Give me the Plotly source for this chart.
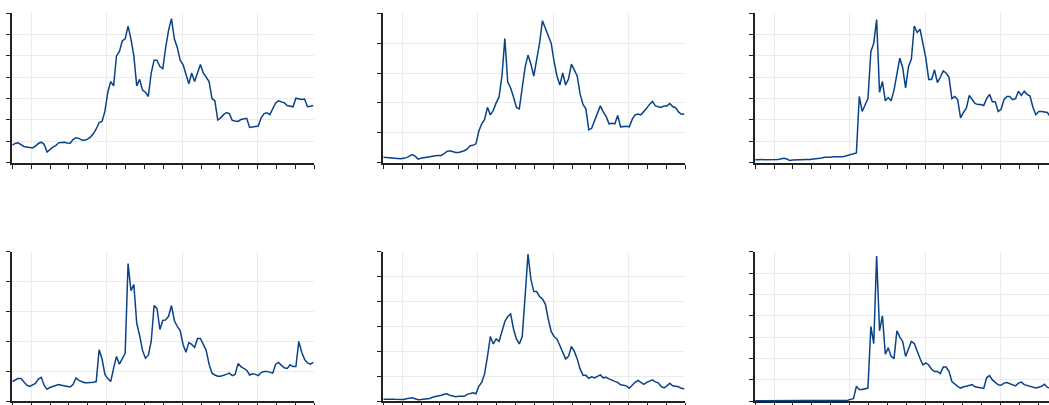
import pandas as pd
import plotly.graph_objects as go
from plotly.subplots import make_subplots

# Fortnightly sampling dates shared by every panel
dates = pd.date_range("2019-10-01", periods=105, freq="14D")

btc = [8200, 9000, 9300, 8300, 7600, 7300, 7000, 6900, 7800, 9000,
       9600, 8600, 5000, 6200, 7300, 8000, 9300, 9500, 9600, 9200,
       9100, 10800, 11700, 11400, 10600, 10500, 11000, 12000, 13500, 15800,
       18800, 19300, 24000, 33000, 38000, 36000, 50000, 52000, 57000, 58000,
       64000, 58000, 50000, 36000, 39000, 34000, 33000, 31000, 42000, 48000,
       48000, 45000, 44000, 54000, 62000, 67500, 58000, 54000, 48000, 46000,
       42000, 37000, 42000, 38000, 42000, 46000, 42000, 40000, 38000, 30000,
       29000, 20000, 21000, 22500, 23500, 23000, 19800, 19500, 19300, 20200,
       20500, 20800, 16500, 16600, 17000, 17200, 21000, 23000, 23400, 22500,
       25000, 28000, 29000, 28500, 28000, 26800, 26500, 26200, 30200, 30000,
       29600, 29800, 26200, 26400, 26800]

eth = [180, 180, 170, 160, 150, 140, 130, 150, 170, 220,
       270, 220, 120, 150, 170, 190, 210, 230, 230, 240,
       240, 300, 380, 400, 360, 340, 340, 370, 400, 460,
       570, 580, 630, 1050, 1300, 1450, 1850, 1600, 1750, 2000,
       2200, 2900, 4150, 2700, 2500, 2200, 1850, 1800, 2500, 3200,
       3600, 3300, 2900, 3400, 4000, 4750, 4500, 4300, 4000, 3400,
       2900, 2600, 3000, 2600, 2800, 3300, 3100, 2900, 2300, 1950,
       1800, 1100, 1150, 1400, 1600, 1900, 1700, 1550, 1300, 1320,
       1300, 1580, 1200, 1220, 1220, 1200, 1450, 1600, 1630, 1600,
       1700, 1820, 1950, 2050, 1900, 1870, 1850, 1900, 1900, 1980,
       1880, 1840, 1700, 1620, 1630]

bnb = [14, 14, 15, 14, 13, 12, 12, 13, 15, 18,
       21, 17, 10, 13, 14, 15, 16, 16, 15, 15,
       16, 17, 21, 22, 25, 24, 26, 28, 27, 28,
       28, 30, 34, 38, 42, 46, 310, 240, 270, 300,
       520, 560, 670, 330, 380, 290, 305, 290, 340, 410,
       490, 445, 350, 450, 485, 640, 610, 625, 555, 490,
       390, 390, 435, 375, 400, 430, 420, 400, 300, 310,
       295, 210, 235, 255, 315, 295, 278, 272, 272, 268,
       300, 320, 285, 285, 240, 250, 295, 310, 310, 295,
       300, 335, 315, 335, 320, 312, 260, 225, 240, 240,
       238, 235, 215, 212, 210]

xrp = [0.264, 0.288, 0.304, 0.304, 0.256, 0.216, 0.200, 0.224, 0.240, 0.296,
       0.320, 0.216, 0.160, 0.184, 0.200, 0.216, 0.224, 0.216, 0.208, 0.200,
       0.192, 0.224, 0.312, 0.280, 0.264, 0.248, 0.248, 0.248, 0.256, 0.264,
       0.688, 0.568, 0.360, 0.304, 0.264, 0.440, 0.600, 0.496, 0.576, 0.640,
       1.840, 1.480, 1.560, 1.040, 0.880, 0.680, 0.576, 0.616, 0.800, 1.280,
       1.240, 0.960, 1.080, 1.088, 1.136, 1.280, 1.080, 1.000, 0.944, 0.760,
       0.656, 0.784, 0.760, 0.720, 0.840, 0.840, 0.760, 0.680, 0.496, 0.376,
       0.352, 0.336, 0.336, 0.344, 0.360, 0.376, 0.344, 0.360, 0.504, 0.464,
       0.440, 0.416, 0.352, 0.368, 0.360, 0.344, 0.384, 0.400, 0.400, 0.384,
       0.376, 0.496, 0.520, 0.480, 0.448, 0.440, 0.488, 0.464, 0.464, 0.800,
       0.656, 0.560, 0.512, 0.496, 0.520]

ada = [0.040, 0.045, 0.045, 0.042, 0.040, 0.035, 0.033, 0.038, 0.050, 0.060,
       0.070, 0.050, 0.030, 0.035, 0.040, 0.050, 0.055, 0.080, 0.090, 0.100,
       0.120, 0.140, 0.150, 0.120, 0.100, 0.090, 0.100, 0.100, 0.100, 0.140,
       0.150, 0.170, 0.150, 0.300, 0.380, 0.550, 0.900, 1.300, 1.150, 1.250,
       1.200, 1.400, 1.600, 1.700, 1.750, 1.450, 1.250, 1.150, 1.300, 2.100,
       2.950, 2.450, 2.200, 2.200, 2.100, 2.050, 1.950, 1.650, 1.400, 1.300,
       1.250, 1.120, 1.000, 0.850, 0.900, 1.100, 1.000, 0.850, 0.650, 0.520,
       0.520, 0.460, 0.490, 0.470, 0.500, 0.530, 0.470, 0.480, 0.450, 0.420,
       0.400, 0.380, 0.330, 0.320, 0.310, 0.260, 0.330, 0.380, 0.420, 0.380,
       0.340, 0.380, 0.400, 0.430, 0.390, 0.370, 0.300, 0.270, 0.310, 0.360,
       0.310, 0.300, 0.290, 0.260, 0.250]

doge = [0.0027, 0.0028, 0.0027, 0.0025, 0.0022, 0.0021, 0.0020, 0.0021, 0.0024, 0.0026,
        0.0028, 0.0025, 0.0017, 0.0019, 0.0021, 0.0023, 0.0025, 0.0026, 0.0027, 0.0028,
        0.0030, 0.0038, 0.0033, 0.0030, 0.0028, 0.0027, 0.0026, 0.0026, 0.0030, 0.0034,
        0.0040, 0.0045, 0.0055, 0.0090, 0.0120, 0.070, 0.055, 0.055, 0.058, 0.062,
        0.350, 0.270, 0.680, 0.330, 0.400, 0.220, 0.250, 0.210, 0.200, 0.330,
        0.300, 0.280, 0.210, 0.250, 0.280, 0.270, 0.230, 0.200, 0.170, 0.180,
        0.170, 0.150, 0.140, 0.140, 0.130, 0.160, 0.160, 0.140, 0.092, 0.080,
        0.070, 0.062, 0.068, 0.070, 0.075, 0.078, 0.068, 0.065, 0.062, 0.060,
        0.110, 0.120, 0.100, 0.090, 0.077, 0.075, 0.085, 0.088, 0.082, 0.076,
        0.072, 0.085, 0.090, 0.078, 0.074, 0.070, 0.065, 0.062, 0.066, 0.070,
        0.080, 0.065, 0.063, 0.062, 0.062]

series = [btc, eth, bnb, xrp, ada, doge]
y_ranges = [(0, 70000, 10000), (0, 5000, 1000), (0, 700, 100),
            (0, 2.0, 0.4), (0, 3.0, 0.5), (0, 0.7, 0.1)]

W, H = 1049, 405
LINE = "#0a4287"
GRID = "#ebebeb"
AXIS = "#222222"

# panel geometry in pixels (left, right) and (top, bottom)
col_px = [(12.3, 314.3), (383.3, 685.3), (755.1, 1057.1)]
row_px = [(13.3, 163.5), (252.9, 403.3)]

fig = make_subplots(rows=2, cols=3)

start = pd.Timestamp("2019-10-01")
end = pd.Timestamp("2023-10-01")
span_days = (end - start).days

for k, vals in enumerate(series):
    r, c = divmod(k, 3)
    fig.add_trace(
        go.Scatter(x=dates, y=vals, mode="lines",
                   line=dict(color=LINE, width=1.5), showlegend=False,
                   hoverinfo="skip"),
        row=r + 1, col=c + 1)

    x0, x1 = col_px[c]
    vis_x1 = min(x1, W)
    x_end = start + pd.Timedelta(days=span_days * (vis_x1 - x0) / (x1 - x0))
    y0p, y1p = row_px[r]
    lo, hi, step = y_ranges[k]

    fig.update_xaxes(
        row=r + 1, col=c + 1,
        domain=[x0 / W, vis_x1 / W],
        range=[start, x_end], type="date",
        dtick="M12", tick0="2020-01-01",
        showticklabels=False, ticks="outside", ticklen=4, tickwidth=1,
        tickcolor=AXIS,
        showgrid=True, gridcolor=GRID, gridwidth=1,
        showline=True, linecolor=AXIS, linewidth=2,
        minor=dict(dtick="M3", tick0="2019-10-01", ticks="outside",
                   ticklen=4, tickcolor=AXIS, showgrid=False),
        zeroline=False, fixedrange=True,
    )
    fig.update_yaxes(
        row=r + 1, col=c + 1,
        domain=[1 - y1p / H, 1 - y0p / H],
        range=[lo, hi], dtick=step, tick0=0,
        showticklabels=False, ticks="outside", ticklen=4, tickwidth=1,
        tickcolor=AXIS,
        showgrid=True, gridcolor=GRID, gridwidth=1,
        showline=True, linecolor=AXIS, linewidth=2,
        zeroline=False, fixedrange=True,
    )

fig.update_layout(
    width=W, height=H,
    margin=dict(l=0, r=0, t=0, b=0),
    paper_bgcolor="white", plot_bgcolor="white",
    font=dict(family="Open Sans"),
)

fig.write_html("out.html")
